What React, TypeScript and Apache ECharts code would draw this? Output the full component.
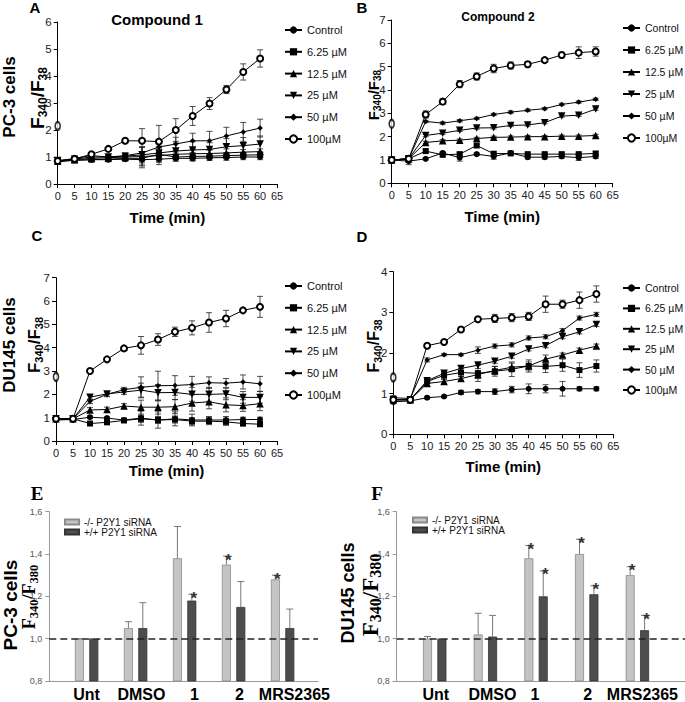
import React, { useEffect, useRef } from "react";
import * as echarts from "echarts";

// ---------- data ----------
const TIME = [0, 5, 10, 15, 20, 25, 30, 35, 40, 45, 50, 55, 60];
const DOSES = ["Control", "6.25 µM", "12.5 µM", "25 µM", "50 µM", "100µM"];

// Panel A: PC-3 cells, compound 1 (rows follow DOSES)
const A_MEAN = [
  [0.85, 0.88, 0.9, 0.9, 0.92, 0.9, 0.92, 0.95, 0.95, 0.97, 0.98, 1.0, 1.0],
  [0.82, 0.88, 0.9, 0.92, 0.95, 0.95, 1.1, 1.0, 1.02, 1.03, 1.05, 1.07, 1.08],
  [0.85, 0.9, 0.95, 0.97, 1.0, 1.02, 1.05, 1.1, 1.12, 1.13, 1.15, 1.18, 1.2],
  [0.87, 0.92, 1.0, 1.0, 1.03, 1.08, 1.15, 1.22, 1.26, 1.28, 1.38, 1.42, 1.48],
  [0.85, 0.95, 1.05, 1.0, 1.05, 1.15, 1.37, 1.48, 1.6, 1.6, 1.78, 1.93, 2.07],
  [0.85, 0.93, 1.1, 1.3, 1.6, 1.6, 1.57, 2.0, 2.52, 2.98, 3.5, 4.15, 4.65],
];
const A_SD = [
  [0.05, 0.05, 0.05, 0.05, 0.05, 0.3, 0.2, 0.1, 0.1, 0.1, 0.1, 0.1, 0.1],
  [0.05, 0.05, 0.05, 0.05, 0.1, 0.25, 0.25, 0.15, 0.15, 0.1, 0.1, 0.1, 0.1],
  [0.05, 0.05, 0.05, 0.05, 0.1, 0.35, 0.25, 0.15, 0.15, 0.15, 0.15, 0.1, 0.1],
  [0.05, 0.05, 0.05, 0.05, 0.1, 0.3, 0.25, 0.3, 0.3, 0.25, 0.3, 0.3, 0.3],
  [0.05, 0.05, 0.05, 0.05, 0.1, 0.2, 0.2, 0.25, 0.28, 0.35, 0.32, 0.35, 0.33],
  [0.05, 0.05, 0.05, 0.05, 0.05, 0.45, 0.6, 0.42, 0.35, 0.22, 0.15, 0.3, 0.32],
];
const A_STRAY = [[0, 2.15]];

// Panel B: PC-3 cells, compound 2
const B_MEAN = [
  [1.0, 0.95, 1.05, 1.3, 1.1, 1.25, 1.15, 1.3, 1.12, 1.12, 1.15, 1.1, 1.15],
  [1.0, 1.05, 1.38, 1.22, 1.25, 1.62, 1.27, 1.28, 1.25, 1.25, 1.25, 1.25, 1.28],
  [1.0, 1.05, 1.75, 1.82, 1.85, 1.92, 1.97, 1.98, 2.0, 2.0, 2.02, 2.02, 2.05],
  [1.0, 1.05, 2.05, 2.15, 2.27, 2.37, 2.38, 2.48, 2.5, 2.6, 2.88, 2.92, 3.18],
  [1.0, 1.05, 2.65, 2.58, 2.68, 2.78, 2.95, 3.05, 3.13, 3.2, 3.38, 3.48, 3.6],
  [1.0, 1.05, 2.95, 3.5, 4.25, 4.58, 4.92, 5.05, 5.1, 5.28, 5.5, 5.6, 5.65],
];
const B_SD = [
  [0.05, 0.15, 0.05, 0.05, 0.15, 0.05, 0.12, 0.05, 0.08, 0.08, 0.08, 0.12, 0.08],
  [0.05, 0.1, 0.08, 0.05, 0.08, 0.05, 0.08, 0.05, 0.05, 0.05, 0.05, 0.05, 0.08],
  [0.05, 0.1, 0.05, 0.05, 0.05, 0.05, 0.05, 0.05, 0.05, 0.05, 0.05, 0.05, 0.05],
  [0.05, 0.1, 0.05, 0.05, 0.05, 0.05, 0.05, 0.05, 0.05, 0.05, 0.05, 0.05, 0.05],
  [0.05, 0.1, 0.05, 0.05, 0.05, 0.05, 0.05, 0.05, 0.05, 0.05, 0.05, 0.05, 0.05],
  [0.05, 0.1, 0.15, 0.12, 0.15, 0.15, 0.18, 0.15, 0.12, 0.1, 0.12, 0.25, 0.2],
];
const B_STRAY = [[0, 2.55]];

// Panel C: DU145 cells, compound 1
const C_MEAN = [
  [0.9, 0.92, 1.02, 0.98, 0.9, 0.98, 0.9, 0.95, 0.9, 0.9, 0.9, 0.92, 0.92],
  [0.95, 0.95, 0.75, 0.8, 0.88, 0.95, 0.9, 0.92, 0.85, 0.85, 0.82, 0.75, 0.72],
  [0.95, 0.95, 1.33, 1.35, 1.5, 1.45, 1.45, 1.47, 1.63, 1.68, 1.55, 1.52, 1.6],
  [0.95, 0.95, 1.88, 2.02, 2.1, 2.18, 2.07, 2.08, 2.0, 2.0, 2.02, 1.87, 1.87],
  [0.95, 0.95, 1.7, 2.0, 2.2, 2.3, 2.37, 2.38, 2.42, 2.5, 2.48, 2.53, 2.45],
  [0.95, 0.95, 3.0, 3.5, 3.97, 4.1, 4.35, 4.68, 4.85, 5.08, 5.25, 5.6, 5.75],
];
const C_SD = [
  [0.05, 0.05, 0.05, 0.05, 0.05, 0.3, 0.35, 0.3, 0.25, 0.15, 0.15, 0.1, 0.1],
  [0.05, 0.05, 0.05, 0.05, 0.05, 0.15, 0.15, 0.15, 0.15, 0.15, 0.15, 0.1, 0.1],
  [0.05, 0.05, 0.1, 0.1, 0.1, 0.3, 0.3, 0.3, 0.35, 0.3, 0.3, 0.25, 0.3],
  [0.05, 0.05, 0.1, 0.1, 0.1, 0.3, 0.35, 0.3, 0.3, 0.3, 0.25, 0.25, 0.25],
  [0.05, 0.05, 0.1, 0.1, 0.1, 0.45, 0.62, 0.42, 0.35, 0.25, 0.2, 0.3, 0.32],
  [0.05, 0.05, 0.05, 0.05, 0.05, 0.38, 0.25, 0.2, 0.3, 0.42, 0.35, 0.05, 0.45],
];
const C_STRAY = [[0, 2.75]];

// Panel D: DU145 cells, compound 2
const D_MEAN = [
  [0.8, 0.82, 0.9, 0.93, 1.03, 1.05, 1.05, 1.1, 1.12, 1.12, 1.12, 1.12, 1.12],
  [0.85, 0.85, 1.3, 1.45, 1.52, 1.5, 1.55, 1.6, 1.68, 1.67, 1.7, 1.58, 1.68],
  [0.85, 0.85, 1.25, 1.3, 1.37, 1.47, 1.57, 1.65, 1.68, 1.85, 1.95, 2.07, 2.17],
  [0.85, 0.85, 1.32, 1.5, 1.62, 1.7, 1.8, 1.92, 2.1, 2.18, 2.4, 2.52, 2.7],
  [0.9, 0.88, 1.83, 1.96, 1.96, 2.07, 2.17, 2.2, 2.37, 2.4, 2.55, 2.86, 2.95],
  [0.85, 0.85, 2.18, 2.27, 2.58, 2.83, 2.85, 2.87, 2.9, 3.2, 3.2, 3.3, 3.45],
];
const D_SD = [
  [0.05, 0.05, 0.03, 0.03, 0.05, 0.05, 0.07, 0.08, 0.12, 0.1, 0.18, 0.05, 0.05],
  [0.05, 0.05, 0.05, 0.08, 0.1, 0.2, 0.12, 0.18, 0.15, 0.15, 0.15, 0.18, 0.15],
  [0.05, 0.05, 0.05, 0.05, 0.05, 0.1, 0.1, 0.1, 0.1, 0.1, 0.05, 0.05, 0.05],
  [0.05, 0.05, 0.05, 0.05, 0.05, 0.08, 0.05, 0.05, 0.05, 0.05, 0.05, 0.05, 0.05],
  [0.05, 0.05, 0.05, 0.03, 0.03, 0.08, 0.05, 0.05, 0.05, 0.05, 0.05, 0.05, 0.05],
  [0.05, 0.05, 0.05, 0.03, 0.03, 0.05, 0.1, 0.1, 0.1, 0.2, 0.1, 0.2, 0.2],
];
const D_STRAY = [[0, 1.4]];

// Panels E / F: bar charts
const BAR_CATS = ["Unt", "DMSO", "1", "2", "MRS2365"];
const SIRNA = ["-/- P2Y1 siRNA", "+/+ P2Y1 siRNA"];

const E_MINUS = [1.0, 1.05, 1.38, 1.35, 1.28];
const E_MINUS_ERR = [1.0, 1.08, 1.53, 1.39, 1.3];
const E_MINUS_STAR = [0, 0, 0, 1, 1];
const E_PLUS = [1.0, 1.05, 1.18, 1.15, 1.05];
const E_PLUS_ERR = [1.0, 1.17, 1.21, 1.27, 1.14];
const E_PLUS_STAR = [0, 0, 1, 0, 0];

const F_MINUS = [1.0, 1.02, 1.38, 1.4, 1.3];
const F_MINUS_ERR = [1.01, 1.12, 1.44, 1.47, 1.34];
const F_MINUS_STAR = [0, 0, 1, 1, 1];
const F_PLUS = [1.0, 1.01, 1.2, 1.21, 1.04];
const F_PLUS_ERR = [1.0, 1.11, 1.32, 1.25, 1.11];
const F_PLUS_STAR = [0, 0, 1, 1, 1];

// ---------- styles / layout ----------
const SANS = '"Liberation Sans", Arial, Helvetica, sans-serif';
const SERIF = '"Liberation Serif", "Times New Roman", serif';

const MARKERS = [
  { symbol: "circle", size: 6, rotate: 0 },
  { symbol: "rect", size: 6, rotate: 0 },
  { symbol: "triangle", size: 7.5, rotate: 0 },
  { symbol: "triangle", size: 7.5, rotate: 180 },
  { symbol: "diamond", size: 5.5, rotate: 0 },
  { symbol: "emptyCircle", size: 6, rotate: 0 },
];

const LINE_PANELS = [
  { mean: A_MEAN, sd: A_SD, stray: A_STRAY, ymax: 6, grid: { left: 57.7, top: 22, width: 219.3, height: 162 }, nameGap: 26, legend: { left: 284, top: 23, gap: 7.8, font: 11 } },
  { mean: B_MEAN, sd: B_SD, stray: B_STRAY, ymax: 7, grid: { left: 391.7, top: 20, width: 221, height: 163.3 }, nameGap: 26, legend: { left: 622, top: 21, gap: 8, font: 10.5 } },
  { mean: C_MEAN, sd: C_SD, stray: C_STRAY, ymax: 7, grid: { left: 56, top: 277.7, width: 221, height: 163.3 }, nameGap: 22, legend: { left: 284, top: 279, gap: 7.8, font: 11 } },
  { mean: D_MEAN, sd: D_SD, stray: D_STRAY, ymax: 4, grid: { left: 393.3, top: 271.7, width: 220, height: 162.6 }, nameGap: 25, legend: { left: 622, top: 281, gap: 6.4, font: 10.5 } },
];

// label anchor positions (in category units) as they sit in the original figure
const BAR_PANELS = [
  { minus: E_MINUS, minusErr: E_MINUS_ERR, minusStar: E_MINUS_STAR, plus: E_PLUS, plusErr: E_PLUS_ERR, plusStar: E_PLUS_STAR, grid: { left: 49.3, top: 511.7, width: 268.7, height: 171.6 }, xMin: -0.761, xMax: 4.722, labelAt: [0, 1.12, 2.2, 3.12, 4.24], legend: { left: 64, top: 517 } },
  { minus: F_MINUS, minusErr: F_MINUS_ERR, minusStar: F_MINUS_STAR, plus: F_PLUS, plusErr: F_PLUS_ERR, plusStar: F_PLUS_STAR, grid: { left: 396.7, top: 511.7, width: 288.3, height: 170.6 }, xMin: -0.75, xMax: 4.94, labelAt: [0.02, 1.14, 1.98, 3.02, 4.1], legend: { left: 412, top: 515 } },
];

const errRender = (params: any, api: any) => {
  const x = api.value(0);
  const lo = api.coord([x, api.value(1)]);
  const hi = api.coord([x, api.value(2)]);
  const w = 3;
  const style = { stroke: "#222", lineWidth: 0.8 };
  return {
    type: "group",
    children: [
      { type: "line", shape: { x1: lo[0], y1: lo[1], x2: hi[0], y2: hi[1] }, style },
      { type: "line", shape: { x1: hi[0] - w, y1: hi[1], x2: hi[0] + w, y2: hi[1] }, style },
      { type: "line", shape: { x1: lo[0] - w, y1: lo[1], x2: lo[0] + w, y2: lo[1] }, style },
    ],
  };
};

const barErrRender = (params: any, api: any) => {
  const x = api.value(0);
  const top = api.coord([x, api.value(1)]);
  const hi = api.coord([x, api.value(2)]);
  const star = api.value(3);
  const side = api.value(4);
  const cx = top[0] + side * 7.2;
  const style = { stroke: "#6a6a6a", lineWidth: 0.9 };
  const children: any[] = [
    { type: "line", shape: { x1: cx, y1: top[1], x2: cx, y2: hi[1] }, style },
    { type: "line", shape: { x1: cx - 3.5, y1: hi[1], x2: cx + 3.5, y2: hi[1] }, style },
  ];
  if (star) {
    children.push({
      type: "text",
      x: cx + 2,
      y: hi[1] + 4,
      style: { text: "*", font: `bold 17px ${SANS}`, fill: "#333", align: "center", verticalAlign: "middle" },
    });
  }
  return { type: "group", children };
};

function buildOption() {
  const grid: any[] = [];
  const xAxis: any[] = [];
  const yAxis: any[] = [];
  const series: any[] = [];
  const legend: any[] = [];

  LINE_PANELS.forEach((p, i) => {
    grid.push({ ...p.grid, containLabel: false });
    xAxis.push({
      gridIndex: i,
      type: "value",
      min: 0,
      max: 65,
      interval: 5,
      name: "Time (min)",
      nameLocation: "middle",
      nameGap: p.nameGap,
      nameTextStyle: { fontFamily: SANS, fontWeight: "bold", fontSize: 15, color: "#000" },
      axisLine: { show: true, onZero: false, lineStyle: { color: "#000", width: 1 } },
      axisTick: { show: true, length: 4, lineStyle: { color: "#000" } },
      axisLabel: { fontFamily: SANS, fontSize: 11, color: "#222", margin: 6, hideOverlap: false },
      splitLine: { show: false },
    });
    yAxis.push({
      gridIndex: i,
      type: "value",
      min: 0,
      max: p.ymax,
      interval: 1,
      axisLine: { show: true, onZero: false, lineStyle: { color: "#000", width: 1 } },
      axisTick: { show: true, length: 4, lineStyle: { color: "#000" } },
      axisLabel: { fontFamily: SANS, fontSize: 11.5, color: "#222", margin: 6 },
      splitLine: { show: false },
    });
    const errData: number[][] = [];
    DOSES.forEach((name, s) => {
      const m = MARKERS[s];
      series.push({
        type: "line",
        name,
        xAxisIndex: i,
        yAxisIndex: i,
        data: TIME.map((t, k) => [t, p.mean[s][k]]),
        symbol: m.symbol,
        symbolSize: m.size,
        symbolRotate: m.rotate,
        showAllSymbol: true,
        lineStyle: { color: "#000", width: 1 },
        itemStyle: { color: "#000", borderColor: "#000", borderWidth: s === 5 ? 1 : 0 },
        z: 3,
      });
      TIME.forEach((t, k) => {
        errData.push([t, p.mean[s][k] - p.sd[s][k], p.mean[s][k] + p.sd[s][k]]);
      });
    });
    series.push({
      type: "custom",
      xAxisIndex: i,
      yAxisIndex: i,
      renderItem: errRender,
      encode: { x: 0, y: [1, 2] },
      data: errData,
      z: 2,
      silent: true,
    });
    series.push({
      type: "scatter",
      xAxisIndex: i,
      yAxisIndex: i,
      symbol: "emptyCircle",
      symbolSize: [5, 8],
      itemStyle: { color: "#000", borderWidth: 1 },
      data: p.stray,
      z: 4,
      silent: true,
    });
    legend.push({
      orient: "vertical",
      left: p.legend.left,
      top: p.legend.top,
      padding: 0,
      itemGap: p.legend.gap,
      itemWidth: 17,
      itemHeight: 9,
      data: DOSES,
      selectedMode: false,
      textStyle: { fontFamily: SANS, fontSize: p.legend.font, lineHeight: 14, color: "#111" },
    });
  });

  BAR_PANELS.forEach((p, j) => {
    const gi = 4 + j;
    grid.push({ ...p.grid, containLabel: false });
    xAxis.push({
      gridIndex: gi,
      type: "value",
      min: p.xMin,
      max: p.xMax,
      axisLine: { show: true, onZero: false, lineStyle: { color: "#999", width: 1 } },
      axisTick: { show: false },
      splitLine: { show: false },
      axisLabel: {
        customValues: p.labelAt,
        formatter: (v: number) => BAR_CATS[Math.round(v)] ?? "",
        fontFamily: SANS,
        fontWeight: "bold",
        fontSize: 16,
        color: "#000",
        margin: 5,
      },
    });
    yAxis.push({
      gridIndex: gi,
      type: "value",
      min: 0.8,
      max: 1.6,
      interval: 0.2,
      axisLine: { show: true, onZero: false, lineStyle: { color: "#999", width: 1 } },
      axisTick: { show: true, length: 4, lineStyle: { color: "#999" } },
      splitLine: { show: false },
      axisLabel: {
        formatter: (v: number) => v.toFixed(1).replace(".", ","),
        fontFamily: SANS,
        fontSize: 9,
        color: "#555",
        margin: 7,
      },
    });
    series.push({
      type: "bar",
      name: SIRNA[0],
      xAxisIndex: gi,
      yAxisIndex: gi,
      data: p.minus.map((v, i) => [i, v]),
      barWidth: 9,
      barGap: "60%",
      itemStyle: { color: "#c4c4c4", borderColor: "#8a8a8a", borderWidth: 0.8 },
      markLine: {
        silent: true,
        symbol: "none",
        label: { show: false },
        lineStyle: { type: [7, 4], color: "#222", width: 1.6 },
        data: [{ yAxis: 1 }],
      },
    });
    series.push({
      type: "bar",
      name: SIRNA[1],
      xAxisIndex: gi,
      yAxisIndex: gi,
      data: p.plus.map((v, i) => [i, v]),
      barWidth: 9,
      barGap: "60%",
      itemStyle: { color: "#4d4d4d", borderColor: "#333", borderWidth: 0.8 },
    });
    const errData = [
      ...p.minus.map((v, i) => [i, v, p.minusErr[i], p.minusStar[i], -1]),
      ...p.plus.map((v, i) => [i, v, p.plusErr[i], p.plusStar[i], 1]),
    ];
    series.push({
      type: "custom",
      xAxisIndex: gi,
      yAxisIndex: gi,
      renderItem: barErrRender,
      encode: { x: 0, y: [1, 2] },
      data: errData,
      z: 5,
      silent: true,
    });
    legend.push({
      orient: "vertical",
      left: p.legend.left,
      top: p.legend.top,
      padding: 0,
      itemGap: 0,
      itemWidth: 14,
      itemHeight: 5,
      icon: "rect",
      data: SIRNA,
      selectedMode: false,
      textStyle: { fontFamily: SANS, fontSize: 10, lineHeight: 10, color: "#111" },
    });
  });

  const t = (x: number, y: number, text: string, font: string, extra: any = {}) => ({
    type: "text",
    x,
    y,
    silent: true,
    ...extra,
    style: { text, font, fill: "#000", align: "center", verticalAlign: "middle" },
  });
  const rot = Math.PI / 2;
  const fLabel = (x: number, y: number, big: number, small: number, sub1: string, sub2: string, family: string) => ({
    type: "text",
    x,
    y,
    rotation: rot,
    silent: true,
    style: {
      text: `{b|F}{s|${sub1}}{b|/F}{s|${sub2}}`,
      align: "center",
      verticalAlign: "middle",
      rich: {
        b: { fontFamily: family, fontWeight: "bold", fontSize: big, lineHeight: big + 4, verticalAlign: "middle", fill: "#000" },
        s: { fontFamily: family, fontWeight: "bold", fontSize: small, lineHeight: small + 2, verticalAlign: "bottom", fill: "#000" },
      },
    },
  });

  const graphic: any[] = [
    t(35, 7, "A", `bold 15px ${SANS}`),
    t(362, 7, "B", `bold 15px ${SANS}`),
    t(37, 235, "C", `bold 15px ${SANS}`),
    t(362, 236, "D", `bold 15px ${SANS}`),
    t(37, 493, "E", `bold 19px ${SERIF}`),
    t(377, 493, "F", `bold 19px ${SERIF}`),
    t(157, 19, "Compound 1", `bold 15px ${SANS}`),
    t(498, 17, "Compound 2", `bold 12px ${SANS}`),
    t(9, 97, "PC-3 cells", `bold 17px ${SANS}`, { rotation: rot }),
    t(9, 345, "DU145 cells", `bold 17px ${SANS}`, { rotation: rot }),
    t(10, 605, "PC-3 cells", `bold 19px ${SANS}`, { rotation: rot }),
    t(348, 593, "DU145 cells", `bold 18px ${SANS}`, { rotation: rot }),
    fLabel(37, 98, 19, 12, "340", "38", SANS),
    fLabel(373, 95, 15, 10, "340", "38", SANS),
    fLabel(34, 345, 17, 11, "340", "38", SANS),
    fLabel(373, 346, 16, 10.5, "340", "38", SANS),
    fLabel(29, 597, 18, 12.5, "340", "380", SERIF),
    fLabel(370, 595, 23, 16, "340", "380", SERIF),
  ];

  return {
    animation: false,
    backgroundColor: "#fff",
    grid,
    xAxis,
    yAxis,
    legend,
    series,
    graphic,
  };
}

export default function App() {
  const ref = useRef<HTMLDivElement>(null);
  useEffect(() => {
    if (!ref.current) return;
    const chart = echarts.init(ref.current, undefined, { renderer: "svg" });
    chart.setOption(buildOption() as any);
    return () => chart.dispose();
  }, []);
  return (
    <div
      ref={ref}
      style={{ position: "absolute", left: 0, top: 0, width: 685, height: 702, background: "#fff" }}
    />
  );
}
